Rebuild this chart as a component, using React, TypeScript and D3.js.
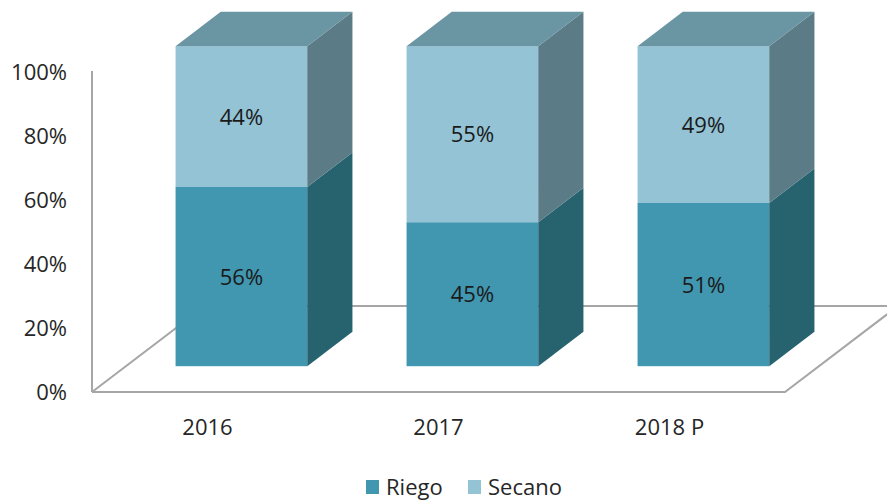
import { useEffect, useRef } from 'react';
import * as d3 from 'd3';

const categories = ['2016', '2017', '2018 P'];
const riego = [0.56, 0.45, 0.51];
const secano = [0.44, 0.55, 0.49];
const seriesNames = ['Riego', 'Secano'];
const yTicks = [0, 0.2, 0.4, 0.6, 0.8, 1];

const App = () => {
  const svgRef = useRef<SVGSVGElement>(null);

  useEffect(() => {
    const svg = d3.select(svgRef.current);
    svg.selectAll('*').remove();

    const width = 887;
    const height = 500;
    const left = 92;
    const right = 785;
    const base = 392;
    const font = "'Open Sans', sans-serif";

    // depth of the floor (full vector) and bar front/back positions inside it
    const depth = { x: 113, y: -86 };
    const barFront = 0.3;
    const barBack = 0.7;

    const x = d3.scaleBand<string>()
      .domain(categories)
      .range([left, right])
      .paddingInner(0.43)
      .paddingOuter(0.215);

    const y = d3.scaleLinear().domain([0, 1]).range([base, base - 320]);

    svg.attr('width', width).attr('height', height);

    const line = d3.line<[number, number]>();
    const gray = '#A6A6A6';

    // floor
    const floor: [number, number][] = [
      [left, base],
      [right, base],
      [right + depth.x, base + depth.y],
      [left + depth.x, base + depth.y],
      [left, base],
    ];
    svg.append('path')
      .attr('d', line(floor))
      .attr('fill', 'none')
      .attr('stroke', gray)
      .attr('stroke-width', 2);

    // vertical axis
    svg.append('line')
      .attr('x1', left).attr('x2', left)
      .attr('y1', y(1) - 1).attr('y2', base)
      .attr('stroke', gray)
      .attr('stroke-width', 2);

    svg.append('g')
      .selectAll('text')
      .data(yTicks)
      .enter()
      .append('text')
      .attr('x', 67)
      .attr('y', d => y(d) + 8)
      .attr('text-anchor', 'end')
      .attr('font-family', font)
      .attr('font-size', 22)
      .attr('fill', '#262626')
      .text(d => d3.format('.0%')(d));

    const stack = categories.map((c, i) => ({ cat: c, parts: [riego[i], secano[i]] }));

    const colors = {
      front: ['#4196B0', '#93C3D5'],
      side: ['#27626F', '#5B7C87'],
      top: '#6A95A3',
    };

    const fx = barFront * depth.x;
    const fy = barFront * depth.y;
    const dx = (barBack - barFront) * depth.x;
    const dy = (barBack - barFront) * depth.y;

    stack.forEach(s => {
      const x0 = (x(s.cat) as number) + fx;
      const x1 = x0 + x.bandwidth();
      let acc = 0;
      s.parts.forEach((v, k) => {
        const yb = y(acc) + fy;
        const yt = y(acc + v) + fy;
        acc += v;
        svg.append('rect')
          .attr('x', x0).attr('y', yt)
          .attr('width', x1 - x0).attr('height', yb - yt)
          .attr('fill', colors.front[k]);
        svg.append('path')
          .attr('d', line([[x1, yb], [x1, yt], [x1 + dx, yt + dy], [x1 + dx, yb + dy]]) + 'Z')
          .attr('fill', colors.side[k]);
        svg.append('text')
          .attr('x', (x0 + x1) / 2)
          .attr('y', (yb + yt) / 2 + 8)
          .attr('text-anchor', 'middle')
          .attr('font-family', font)
          .attr('font-size', 22)
          .attr('fill', '#1a1a1a')
          .text(d3.format('.0%')(v));
      });
      const yTop = y(acc) + fy;
      svg.append('path')
        .attr('d', line([[x0, yTop], [x1, yTop], [x1 + dx, yTop + dy], [x0 + dx, yTop + dy]]) + 'Z')
        .attr('fill', colors.top);
    });

    // category labels
    svg.append('g')
      .selectAll('text')
      .data(categories)
      .enter()
      .append('text')
      .attr('x', d => (x(d) as number) + x.bandwidth() / 2)
      .attr('y', 435)
      .attr('text-anchor', 'middle')
      .attr('font-family', font)
      .attr('font-size', 22)
      .attr('fill', '#262626')
      .text(d => d);

    // legend
    const legendX = [366, 468];
    seriesNames.forEach((n, i) => {
      svg.append('rect')
        .attr('x', legendX[i]).attr('y', 480)
        .attr('width', 13).attr('height', 14)
        .attr('fill', colors.front[i]);
      svg.append('text')
        .attr('x', legendX[i] + 20)
        .attr('y', 495)
        .attr('font-family', font)
        .attr('font-size', 22)
        .attr('fill', '#262626')
        .text(n);
    });
  }, []);

  return (
    <div style={{ position: 'absolute', left: 0, top: 0 }}>
      <svg ref={svgRef}></svg>
    </div>
  );
};

export default App;
